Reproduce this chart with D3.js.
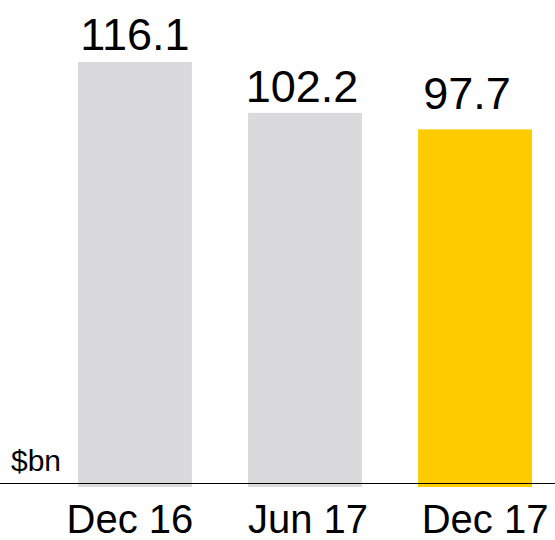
<!DOCTYPE html>
<html>
<head>
<meta charset="utf-8">
<script src="https://cdn.jsdelivr.net/npm/d3@7"></script>
<style>
  body { margin: 0; background: #fff; }
  text { font-family: "Liberation Sans", Arial, sans-serif; }
</style>
</head>
<body>
<svg></svg>
<script>
// chart data
var periods = ["Dec 16", "Jun 17", "Dec 17"];
var values = [116.1, 102.2, 97.7];
var barColors = ["#dadadc", "#dadadc", "#ffcc00"];
var unitLabel = "$bn";

var screen = {width: 555, height: 540};
var margins = {left: 78, right: 23, top: 62, bottom: 53};

var graph = {
    width: screen.width - margins.left - margins.right,
    height: screen.height - margins.top - margins.bottom
};

var svg = d3.select("svg")
    .attr("width", screen.width)
    .attr("height", screen.height);

var target = svg.append("g")
    .attr("transform", "translate(" + margins.left + "," + margins.top + ")");

var xScale = d3.scaleBand()
    .domain(periods)
    .range([0, graph.width])
    .paddingInner(0.33)
    .paddingOuter(0);

var yScale = d3.scaleLinear()
    .domain([0, d3.max(values)])
    .range([graph.height, 0]);

// bars
target.selectAll("rect")
    .data(values)
    .enter()
    .append("rect")
    .attr("x", function(d, i) { return xScale(periods[i]); })
    .attr("y", function(d) { return yScale(d); })
    .attr("width", xScale.bandwidth())
    .attr("height", function(d) { return graph.height - yScale(d); })
    .attr("fill", function(d, i) { return barColors[i]; });

// value labels - the placement in the original is a bit uneven
var valShiftX = [0, -3, -8];
var valGap = [12, 11, 20];
target.selectAll(".val")
    .data(values)
    .enter()
    .append("text")
    .attr("class", "val")
    .attr("x", function(d, i) { return xScale(periods[i]) + xScale.bandwidth() / 2 + valShiftX[i]; })
    .attr("y", function(d, i) { return yScale(d) - valGap[i]; })
    .attr("text-anchor", "middle")
    .attr("font-size", 45)
    .attr("fill", "#000")
    .text(function(d) { return d3.format(".1f")(d); });

// baseline
svg.append("line")
    .attr("x1", 0)
    .attr("x2", screen.width)
    .attr("y1", 483.5)
    .attr("y2", 483.5)
    .attr("stroke", "#000")
    .attr("stroke-width", 1.2);

// category labels (last one sits a bit to the right)
var labelShift = [-5, 3, 10];
target.selectAll(".cat")
    .data(periods)
    .enter()
    .append("text")
    .attr("class", "cat")
    .attr("x", function(d, i) { return xScale(d) + xScale.bandwidth() / 2 + labelShift[i]; })
    .attr("y", graph.height + 46)
    .attr("text-anchor", "middle")
    .attr("font-size", 40)
    .attr("fill", "#000")
    .text(function(d) { return d; });

// unit label
svg.append("text")
    .attr("x", 11)
    .attr("y", 471)
    .attr("font-size", 30)
    .attr("fill", "#000")
    .text(unitLabel);
</script>
</body>
</html>
